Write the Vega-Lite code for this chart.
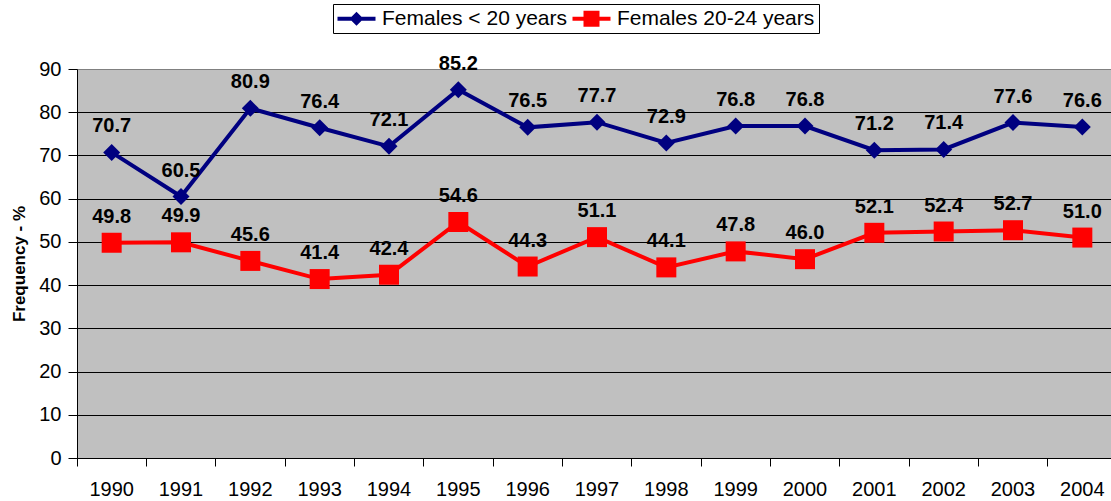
{
  "$schema": "https://vega.github.io/schema/vega-lite/v6.json",
  "width": 1034,
  "height": 389,
  "autosize": {"type": "none"},
  "padding": {"left": 77, "top": 69, "right": 0, "bottom": 43},
  "background": "white",
  "config": {
    "view": {"fill": "#C0C0C0", "stroke": null},
    "font": "Liberation Sans, Arial"
  },
  "data": {
    "values": [
      {"year": "1990", "series": "Females < 20 years", "value": 70.7},
      {"year": "1991", "series": "Females < 20 years", "value": 60.5},
      {"year": "1992", "series": "Females < 20 years", "value": 80.9},
      {"year": "1993", "series": "Females < 20 years", "value": 76.4},
      {"year": "1994", "series": "Females < 20 years", "value": 72.1},
      {"year": "1995", "series": "Females < 20 years", "value": 85.2},
      {"year": "1996", "series": "Females < 20 years", "value": 76.5},
      {"year": "1997", "series": "Females < 20 years", "value": 77.7},
      {"year": "1998", "series": "Females < 20 years", "value": 72.9},
      {"year": "1999", "series": "Females < 20 years", "value": 76.8},
      {"year": "2000", "series": "Females < 20 years", "value": 76.8},
      {"year": "2001", "series": "Females < 20 years", "value": 71.2},
      {"year": "2002", "series": "Females < 20 years", "value": 71.4},
      {"year": "2003", "series": "Females < 20 years", "value": 77.6},
      {"year": "2004", "series": "Females < 20 years", "value": 76.6},
      {"year": "1990", "series": "Females 20-24 years", "value": 49.8},
      {"year": "1991", "series": "Females 20-24 years", "value": 49.9},
      {"year": "1992", "series": "Females 20-24 years", "value": 45.6},
      {"year": "1993", "series": "Females 20-24 years", "value": 41.4},
      {"year": "1994", "series": "Females 20-24 years", "value": 42.4},
      {"year": "1995", "series": "Females 20-24 years", "value": 54.6},
      {"year": "1996", "series": "Females 20-24 years", "value": 44.3},
      {"year": "1997", "series": "Females 20-24 years", "value": 51.1},
      {"year": "1998", "series": "Females 20-24 years", "value": 44.1},
      {"year": "1999", "series": "Females 20-24 years", "value": 47.8},
      {"year": "2000", "series": "Females 20-24 years", "value": 46.0},
      {"year": "2001", "series": "Females 20-24 years", "value": 52.1},
      {"year": "2002", "series": "Females 20-24 years", "value": 52.4},
      {"year": "2003", "series": "Females 20-24 years", "value": 52.7},
      {"year": "2004", "series": "Females 20-24 years", "value": 51.0}
    ]
  },
  "encoding": {
    "x": {
      "field": "year",
      "type": "ordinal",
      "scale": {"type": "band", "paddingInner": 0, "paddingOuter": 0, "range": [0, 1040]},
      "axis": {
        "title": null,
        "labelAngle": 0,
        "bandPosition": 0,
        "tickSize": 8,
        "tickColor": "black",
        "domainColor": "black",
        "labelFontSize": 20,
        "labelColor": "black",
        "labelPadding": 13,
        "grid": false
      }
    },
    "y": {
      "field": "value",
      "type": "quantitative",
      "scale": {"domain": [0, 90], "nice": false},
      "axis": {
        "title": "Frequency - %",
        "titleFontSize": 17,
        "titleFontWeight": "bold",
        "titleColor": "black",
        "titlePadding": 10,
        "values": [0, 10, 20, 30, 40, 50, 60, 70, 80, 90],
        "tickSize": 9,
        "tickColor": "black",
        "domainColor": "black",
        "labelFontSize": 20,
        "labelColor": "black",
        "labelPadding": 7,
        "grid": true,
        "gridOpacity": 1,
        "gridColor": {"condition": {"test": "datum.value === 90", "value": "#808080"}, "value": "black"}
      }
    }
  },
  "layer": [
    {
      "transform": [{"filter": "datum.series === 'Females < 20 years'"}],
      "mark": {"type": "line", "strokeWidth": 4, "color": "#000080"}
    },
    {
      "transform": [{"filter": "datum.series === 'Females 20-24 years'"}],
      "mark": {"type": "line", "strokeWidth": 4, "color": "#FF0000"}
    },
    {
      "transform": [{"filter": "datum.series === 'Females < 20 years'"}],
      "mark": {"type": "point", "shape": "diamond", "filled": true, "size": 289, "opacity": 1, "color": "#000080"}
    },
    {
      "transform": [{"filter": "datum.series === 'Females 20-24 years'"}],
      "mark": {"type": "point", "shape": "square", "filled": true, "size": 400, "opacity": 1, "color": "#FF0000"}
    },
    {
      "mark": {"type": "text", "dy": -26, "fontSize": 20, "fontWeight": "bold", "color": "black", "baseline": "middle"},
      "encoding": {
        "text": {"field": "value", "type": "quantitative", "format": ".1f"}
      }
    },
    {
      "mark": {"type": "point", "filled": true, "opacity": 0, "size": 400},
      "encoding": {
        "color": {
          "field": "series",
          "type": "nominal",
          "scale": {"domain": ["Females < 20 years", "Females 20-24 years"], "range": ["#000080", "#FF0000"]},
          "legend": {
            "title": null,
            "orient": "none",
            "legendX": 256,
            "legendY": -65,
            "direction": "horizontal",
            "strokeColor": "black",
            "fillColor": "white",
            "padding": 4,
            "labelFontSize": 21,
            "labelColor": "black",
            "labelLimit": 0,
            "symbolSize": 400,
            "symbolStrokeWidth": 0,
            "symbolOpacity": 1,
            "labelOffset": 24,
            "columnPadding": 4
          }
        },
        "shape": {
          "field": "series",
          "type": "nominal",
          "scale": {
            "domain": ["Females < 20 years", "Females 20-24 years"],
            "range": [
              "M-1,-0.2H2.8V0.2H-1Z M0.9,-0.7L1.6,0L0.9,0.7L0.2,0Z",
              "M-1,-0.2H2.8V0.2H-1Z M0.1,-0.8H1.7V0.8H0.1Z"
            ]
          },
          "legend": {
            "title": null,
            "orient": "none",
            "legendX": 256,
            "legendY": -65,
            "direction": "horizontal",
            "strokeColor": "black",
            "fillColor": "white",
            "padding": 4,
            "labelFontSize": 21,
            "labelColor": "black",
            "labelLimit": 0,
            "symbolSize": 400,
            "symbolStrokeWidth": 0,
            "symbolOpacity": 1,
            "labelOffset": 24,
            "columnPadding": 4
          }
        }
      }
    }
  ]
}
